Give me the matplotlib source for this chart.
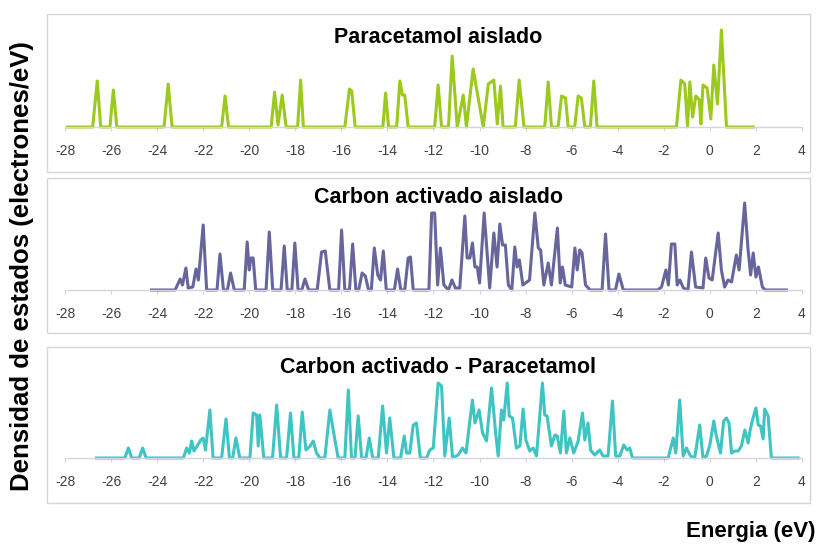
import numpy as np
import matplotlib
matplotlib.use("Agg")
import matplotlib.pyplot as plt
from matplotlib.patches import Rectangle

plt.rcParams['font.family'] = ['Liberation Sans', 'DejaVu Sans']
plt.rcParams['axes.unicode_minus'] = False

# Density of states curves: (energy in eV, states/eV)
PARACETAMOL = [
    (-27.9, 0), (-26.8, 0), (-26.6, 4.6), (-26.45, 0), (-26.05, 0), (-25.9, 3.7), (-25.75, 0),
    (-23.7, 0), (-23.52, 4.3), (-23.35, 0), (-21.2, 0), (-21.05, 3.1), (-20.9, 0),
    (-19.05, 0), (-18.9, 3.5), (-18.75, 0.2), (-18.57, 3.2), (-18.4, 0),
    (-17.9, 0), (-17.77, 4.7), (-17.65, 0), (-15.85, 0), (-15.65, 3.8), (-15.55, 3.6), (-15.4, 0),
    (-14.2, 0), (-14.08, 3.4), (-13.95, 0), (-13.6, 0), (-13.46, 4.6), (-13.35, 3.2), (-13.25, 3.2), (-13.1, 0),
    (-11.95, 0), (-11.8, 4.2), (-11.65, 0), (-11.35, 0), (-11.19, 7.1), (-10.97, 0), (-10.71, 3.2), (-10.57, 0),
    (-10.28, 5.8), (-9.84, 0), (-9.62, 4.3), (-9.5, 4.5), (-9.38, 4.7), (-9.23, 0.3), (-9.09, 4.1), (-8.98, 0),
    (-8.45, 0), (-8.28, 4.7), (-8.07, 0), (-7.17, 0), (-7.02, 4.5), (-6.88, 0),
    (-6.59, 0), (-6.44, 3.1), (-6.27, 2.9), (-6.15, 0), (-5.87, 0), (-5.72, 3.1), (-5.58, 2.9), (-5.43, 0),
    (-5.19, 0), (-5.04, 4.6), (-4.9, 0), (-1.45, 0), (-1.26, 4.7), (-1.09, 4.3), (-0.97, 0),
    (-0.87, 4.5), (-0.75, 1.0), (-0.61, 3.1), (-0.46, 2.7), (-0.39, 0.3), (-0.30, 4.2), (-0.12, 3.9),
    (0.04, 0.8), (0.17, 6.2), (0.33, 2.3), (0.50, 9.7), (0.72, 0), (1.88, 0),
]

CARBON = [
    (-24.24, 0), (-23.22, 0), (-23.0, 1.1), (-22.9, 0.5), (-22.75, 2.2), (-22.65, 0.2), (-22.45, 0.3),
    (-22.31, 2.1), (-22.21, 1.0), (-22.0, 6.5), (-21.85, 0), (-21.4, 0), (-21.27, 3.6), (-21.12, 0),
    (-20.95, 0), (-20.81, 1.7), (-20.65, 0), (-20.22, 0), (-20.09, 4.8), (-20.0, 2.0), (-19.93, 3.2),
    (-19.83, 3.2), (-19.72, 0), (-19.27, 0), (-19.13, 5.8), (-18.98, 0), (-18.62, 0), (-18.48, 4.4),
    (-18.35, 0), (-18.15, 0), (-18.02, 4.7), (-17.88, 0), (-17.72, 0), (-17.58, 1.1), (-17.42, 0),
    (-17.05, 0), (-16.86, 3.8), (-16.7, 3.9), (-16.5, 0), (-16.12, 0), (-15.99, 6.0), (-15.85, 0),
    (-15.65, 0), (-15.51, 4.6), (-15.37, 0), (-15.25, 0), (-15.1, 1.7), (-14.96, 1.4), (-14.82, 0),
    (-14.7, 0), (-14.57, 4.2), (-14.42, 1.5), (-14.3, 1.0), (-14.18, 3.9), (-14.05, 0), (-13.7, 0),
    (-13.56, 2.1), (-13.42, 0), (-13.25, 0), (-13.1, 3.2), (-13.0, 3.3), (-12.88, 0), (-12.2, 0),
    (-12.08, 7.7), (-11.95, 7.7), (-11.82, 0.5), (-11.7, 4.2), (-11.55, 0.5), (-11.35, 0), (-11.2, 1.0),
    (-11.05, 0.2), (-10.86, 0.2), (-10.64, 7.4), (-10.54, 3.2), (-10.42, 3.2), (-10.31, 4.7), (-10.2, 2.3),
    (-10.1, 2.3), (-10.0, 0.7), (-9.8, 7.7), (-9.56, 0.2), (-9.38, 5.7), (-9.24, 2.3), (-9.12, 6.6),
    (-9.0, 4.5), (-8.88, 4.5), (-8.75, 0.5), (-8.6, 0), (-8.47, 4.3), (-8.37, 2.3), (-8.27, 3.0),
    (-8.12, 0.5), (-7.83, 1.0), (-7.6, 7.7), (-7.45, 4.2), (-7.35, 4.0), (-7.21, 0.5), (-7.02, 2.7),
    (-6.88, 0.5), (-6.62, 6.2), (-6.5, 0.7), (-6.4, 2.3), (-6.28, 0.5), (-6.0, 0.3), (-5.86, 4.2),
    (-5.76, 2.0), (-5.65, 4.0), (-5.55, 3.7), (-5.4, 0.5), (-5.2, 0), (-4.68, 0), (-4.53, 5.6),
    (-4.38, 0), (-4.1, 0), (-3.95, 1.6), (-3.76, 0), (-2.26, 0), (-2.1, 0.3), (-1.91, 2.0), (-1.8, 0.5),
    (-1.67, 4.6), (-1.52, 4.6), (-1.42, 0.5), (-1.3, 1.0), (-1.15, 0.2), (-0.95, 0), (-0.8, 3.8),
    (-0.62, 0.3), (-0.3, 0.2), (-0.18, 3.2), (-0.04, 1.2), (0.1, 1.0), (0.36, 5.7), (0.5, 2.0),
    (0.64, 0.3), (0.79, 1.0), (0.94, 0.8), (1.15, 3.5), (1.27, 2.0), (1.51, 8.7), (1.66, 4.0),
    (1.77, 1.5), (1.88, 3.7), (2.0, 1.3), (2.11, 2.3), (2.28, 0.3), (2.4, 0), (3.32, 0),
]

CARBON_PARACETAMOL = [
    (-26.63, 0), (-25.4, 0), (-25.25, 1.0), (-25.1, 0), (-24.78, 0), (-24.63, 1.0), (-24.48, 0),
    (-22.86, 0), (-22.72, 1.0), (-22.6, 0.5), (-22.5, 1.7), (-22.4, 0.7), (-22.26, 1.2), (-22.11, 1.8),
    (-22.0, 2.0), (-21.9, 0.8), (-21.71, 4.8), (-21.57, 0), (-21.2, 0), (-21.01, 3.9), (-20.86, 0),
    (-20.72, 0), (-20.58, 2.0), (-20.41, 0), (-19.97, 0), (-19.83, 4.5), (-19.68, 4.3), (-19.61, 1.2),
    (-19.54, 4.3), (-19.37, 0), (-18.99, 0), (-18.81, 5.3), (-18.64, 0), (-18.38, 0), (-18.21, 4.5),
    (-18.06, 0), (-17.85, 0), (-17.7, 4.6), (-17.54, 0.8), (-17.36, 1.2), (-17.22, 1.7), (-17.08, 0.5),
    (-16.93, 0), (-16.72, 0), (-16.5, 4.8), (-16.28, 1.8), (-16.14, 0), (-15.85, 0), (-15.7, 6.8),
    (-15.56, 0), (-15.41, 0), (-15.27, 4.2), (-15.12, 0), (-14.93, 0), (-14.79, 2.0), (-14.64, 0),
    (-14.4, 0), (-14.21, 5.2), (-14.04, 0.5), (-13.9, 4.0), (-13.72, 0), (-13.43, 0), (-13.27, 2.2),
    (-13.17, 0.5), (-13.03, 0.5), (-12.88, 3.3), (-12.74, 3.5), (-12.57, 0), (-12.3, 0), (-12.16, 0.8),
    (-12.01, 1.0), (-11.8, 7.5), (-11.65, 7.2), (-11.51, 0.2), (-11.32, 4.0), (-11.17, 0),
    (-10.93, 0.3), (-10.74, 1.0), (-10.59, 0.5), (-10.31, 5.8), (-10.2, 3.5), (-10.02, 4.8),
    (-9.87, 2.5), (-9.7, 1.7), (-9.48, 7.0), (-9.29, 2.2), (-9.19, 0.2), (-9.05, 4.8), (-8.95, 3.8),
    (-8.8, 7.5), (-8.71, 4.2), (-8.57, 4.0), (-8.4, 1.0), (-8.25, 1.2), (-8.11, 4.9), (-7.99, 1.8),
    (-7.82, 0.7), (-7.67, 1.0), (-7.53, 0.2), (-7.27, 7.5), (-7.17, 4.3), (-7.07, 4.2), (-6.88, 1.2),
    (-6.73, 2.3), (-6.63, 2.2), (-6.49, 0.5), (-6.34, 4.7), (-6.23, 0.5), (-6.08, 2.0), (-5.91, 0.5),
    (-5.72, 1.7), (-5.53, 4.5), (-5.43, 1.8), (-5.29, 3.5), (-5.18, 0.8), (-5.0, 0.3), (-4.78, 0.8),
    (-4.64, 0.2), (-4.42, 0.2), (-4.23, 5.7), (-4.09, 0.2), (-3.91, 0.2), (-3.74, 1.3), (-3.59, 0.8),
    (-3.48, 1.0), (-3.36, 0), (-1.81, 0), (-1.59, 2.0), (-1.48, 0.5), (-1.31, 5.8), (-1.16, 0.2),
    (-1.02, 1.0), (-0.84, 0.2), (-0.66, 0), (-0.44, 3.3), (-0.3, 0), (-0.15, 0.2), (-0.01, 1.2),
    (0.17, 3.7), (0.28, 2.2), (0.46, 0.5), (0.6, 3.7), (0.72, 4.0), (0.83, 3.5), (0.94, 0.5),
    (1.08, 0.7), (1.23, 0.7), (1.37, 1.2), (1.52, 2.8), (1.66, 1.5), (1.74, 2.7), (1.85, 3.8),
    (2.0, 5.0), (2.1, 3.3), (2.2, 3.2), (2.31, 1.9), (2.38, 4.9), (2.53, 4.2), (2.67, 0), (3.83, 0),
]

TITLES = ["Paracetamol aislado", "Carbon activado aislado", "Carbon activado - Paracetamol"]
COLORS = ["#9cc91e", "#67659b", "#3ec4c2"]
SERIES = [PARACETAMOL, CARBON, CARBON_PARACETAMOL]
XTICKS = list(range(-28, 5, 2))

W, H = 818, 549
fig = plt.figure(figsize=(W / 100, H / 100), dpi=100)


def fig_rect(x0, y0, x1, y1):
    """Pixel box (top-left origin) -> figure fraction [left, bottom, width, height]."""
    return [x0 / W, 1 - y1 / H, (x1 - x0) / W, (y1 - y0) / H]


frames = [(47, 14, 810, 172), (47, 178, 810, 333), (47, 347, 810, 503)]
baselines = [127, 290, 458]
title_y = [43, 203, 373]
ymax = 10.7

for frame, base, ty, title, color, data in zip(frames, baselines, title_y, TITLES, COLORS, SERIES):
    x0, y0, x1, y1 = frame
    fig.add_artist(Rectangle((x0 / W, 1 - y1 / H), (x1 - x0) / W, (y1 - y0) / H,
                             transform=fig.transFigure, fill=False,
                             edgecolor="#d6d6d6", linewidth=1.0))
    ax = fig.add_axes(fig_rect(65, base - ymax * 10, 802, base))
    ax.set_xlim(-28, 4)
    ax.set_ylim(0, ymax)
    ax.patch.set_visible(False)
    for side in ("top", "right", "left"):
        ax.spines[side].set_visible(False)
    ax.spines["bottom"].set_color("#d3d6e0")
    ax.spines["bottom"].set_linewidth(1.0)
    ax.set_yticks([])
    ax.set_xticks(XTICKS)
    ax.tick_params(axis="x", direction="out", length=3, width=0.8, color="#d3d6e0",
                   labelsize=10, labelcolor="#404040", pad=9)
    e, d = np.array(data, dtype=float).T
    ax.plot(e, d, color=color, linewidth=2.2, solid_joinstyle="round", clip_on=False)
    fig.text(438 / W, 1 - ty / H, title, ha="center", va="baseline",
             fontsize=15.5, fontweight="bold", color="black")

fig.text(22 / W, 1 - 266 / H, "Densidad de estados (electrones/eV)", rotation=90,
         ha="center", va="center", fontsize=18.5, fontweight="bold", color="black")
fig.text(815 / W, 1 - 537 / H, "Energia (eV)", ha="right", va="baseline",
         fontsize=16, fontweight="bold", color="black")

fig.savefig("out.png", dpi=100, facecolor="white")
